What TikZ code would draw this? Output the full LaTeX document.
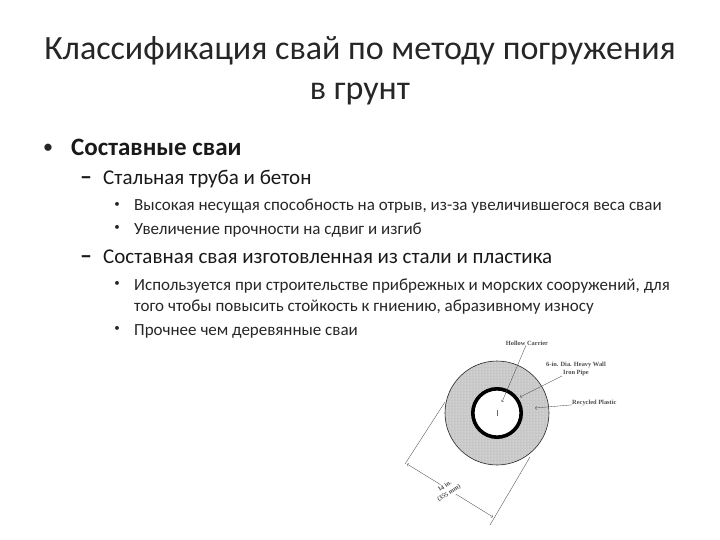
\documentclass[tikz,border=0pt]{standalone}
\usepackage{fontspec}
\setmainfont{Carlito}
\newfontfamily\figfont{Liberation Serif}
\usetikzlibrary{positioning}
\usetikzlibrary{patterns}
\tikzset{
  titletext/.style={font=\fontsize{34}{40}\selectfont,text=black!85,anchor=base,inner sep=0pt},
  levelone/.style={font=\fontsize{25}{28}\selectfont\bfseries,text=black!90,anchor=base west,inner sep=0pt},
  leveltwo/.style={font=\fontsize{21}{25}\selectfont,text=black!90,anchor=base west,inner sep=0pt},
  levelthree/.style={font=\fontsize{17}{22}\selectfont,text=black!85,anchor=base west,inner sep=0pt},
  markone/.style={font=\fontsize{17}{20}\selectfont\bfseries,text=black!85,anchor=center,inner sep=0pt},
  marktwo/.style={font=\fontsize{24}{25}\selectfont\bfseries,text=black!90,anchor=base west,inner sep=0pt},
  markthree/.style={font=\fontsize{11}{14}\selectfont,text=black!85,anchor=center,inner sep=0pt},
  figlabel/.style={font=\figfont\bfseries\fontsize{6.4}{8}\selectfont,text=black!70,inner sep=0pt,align=center},
  figline/.style={line width=0.35pt,black!70},
}
\begin{document}
\begin{tikzpicture}[x=1pt,y=-1pt]
  \useasboundingbox (0,0) rectangle (720,540);
  \node[titletext](title1) at (360,60) {Классификация свай по методу погружения};
  \node[titletext](title2) at (360,100) {в грунт};

  \node[markone](mark1) at (48,148) {•};
  \node[levelone](item1) at (71,156) {Составные сваи};
  \node[marktwo](mark2) at (80,185) {–};
  \node[leveltwo](item2) at (103,185) {Стальная труба и бетон};
  \node[markthree](mark3) at (117,205) {•};
  \node[levelthree](item3) at (134,211) {Высокая несущая способность на отрыв, из-за увеличившегося веса сваи};
  \node[markthree](mark4) at (117,228) {•};
  \node[levelthree](item4) at (134,234) {Увеличение прочности на сдвиг и изгиб};
  \node[marktwo](mark5) at (80,263) {–};
  \node[leveltwo](item5) at (103,263) {Составная свая изготовленная из стали и пластика};
  \node[markthree](mark6) at (117,284) {•};
  \node[levelthree](item6) at (134,290) {Используется при строительстве прибрежных и морских сооружений, для};
  \node[levelthree](item7) at (134,311) {того чтобы повысить стойкость к гниению, абразивному износу};
  \node[markthree](mark8) at (117,329) {•};
  \node[levelthree](item8) at (134,335) {Прочнее чем деревянные сваи};

  % pile section
  \coordinate (center) at (497,413);
  \fill[black!22] (center) circle (52);
  \fill[pattern=dots,pattern color=white] (center) circle (52);
  \draw[black!85,line width=0.6pt] (center) circle (52);
  \draw[black,fill=white,line width=3.6pt] (center) circle (24.2);
  \draw[black!60,line width=0.4pt] (497,410)--(497,416);

  \node[figlabel](hollow) at (527,343) {Hollow Carrier};
  \node[figlabel](pipe) at (576,369) {6-in. Dia. Heavy Wall\\Iron Pipe};
  \node[figlabel,anchor=west](plastic) at (572,403) {Recycled Plastic};
  \coordinate (hollowend) at (502,402);
  \coordinate (pipeend) at (520,397);
  \coordinate (plasticend) at (535,408);
  \draw[figline,->] (hollow)--(hollowend);
  \draw[figline,->] (pipe)--(pipeend);
  \draw[figline,->] (plastic)--(plasticend);

  \coordinate (ext1a) at (445,402);
  \coordinate (ext1b) at (405,464);
  \coordinate (ext2a) at (530,457);
  \coordinate (ext2b) at (490,525);
  \coordinate (dim1) at (407,464);
  \coordinate (dim2) at (493,517);
  \draw[figline] (ext1a)--(ext1b);
  \draw[figline] (ext2a)--(ext2b);
  \draw[figline,<->] (dim1)--(dim2);
  \node[figlabel,rotate=32,fill=white,inner sep=1pt](dimlabel) at (447,490) {14 in.\\(355 mm)};
\end{tikzpicture}
\end{document}
